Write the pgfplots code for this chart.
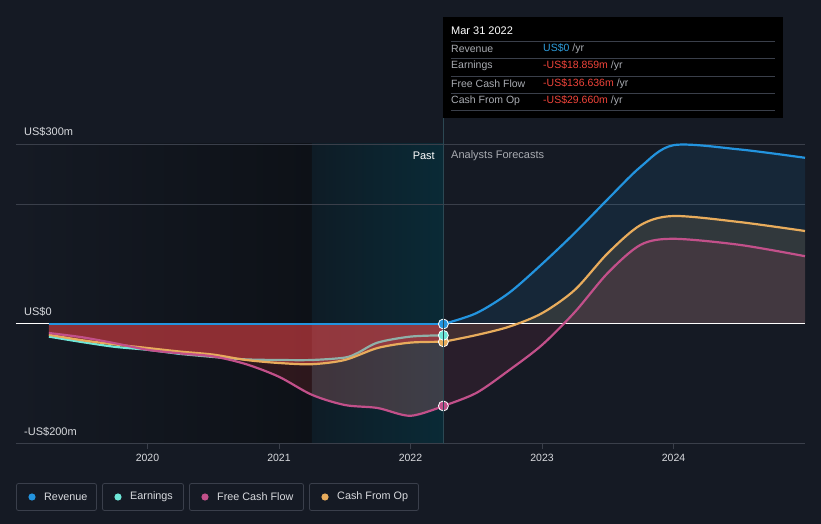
\documentclass[border=0pt]{standalone}
\usepackage{pgfplots}
\pgfplotsset{compat=1.18}
\usepackage{fontspec}
\setmainfont{Liberation Sans}
\definecolor{bg}{HTML}{151A24}
\definecolor{darkband}{HTML}{0D1117}
\definecolor{teal1}{HTML}{0E1C26}
\definecolor{teal2}{HTML}{0A2A36}
\definecolor{gridgray}{HTML}{3A3F4A}
\definecolor{revblue}{HTML}{2394DF}
\definecolor{earncyan}{HTML}{6EE7D8}
\definecolor{earngray}{HTML}{8FB0A8}
\definecolor{fcfpink}{HTML}{C2508A}
\definecolor{cfoorange}{HTML}{E8AC5C}
\definecolor{pastred}{HTML}{C03A3F}
\definecolor{negred}{HTML}{E63C3C}
\definecolor{fcffill}{HTML}{C04060}
\definecolor{labgray}{HTML}{A9ACB2}
\definecolor{valred}{HTML}{F0443A}
\definecolor{valblue}{HTML}{2D9CDB}
\definecolor{ticktext}{HTML}{D8DADE}
\definecolor{vline}{HTML}{2C4853}
\definecolor{legborder}{HTML}{3A3F4B}
\begin{document}
\begin{tikzpicture}[x=1pt,y=1pt]
\fill[bg] (0,0) rectangle (821,524);
\useasboundingbox (0,0) rectangle (821,524);
\begin{axis}[
  at={(16pt,80pt)}, anchor=south west, scale only axis,
  width=789pt, height=300pt,
  xmin=2019, xmax=2025, ymin=-200, ymax=300,
  axis x line*=bottom, axis y line=none,
  axis on top,
  x axis line style={draw=gridgray, line width=1pt},
  xtick={2020,2021,2022,2023,2024},
  xticklabels={2020,2021,2022,2023,2024},
  tick style={draw=gridgray, line width=1pt},
  major tick length=5pt, tick align=outside,
  xticklabel style={text=ticktext, font=\fontsize{10.5}{12}\selectfont, yshift=-1.5pt},
  ytick=\empty,
]
% background bands
\fill[left color=bg, right color=darkband] (axis cs:2019,-200) rectangle (axis cs:2021.25,300);
\fill[left color=teal1, right color=teal2] (axis cs:2021.25,-200) rectangle (axis cs:2022.25,300);
\draw[gridgray, line width=0.8pt] (axis cs:2019,300) -- (axis cs:2025,300);
\draw[gridgray, line width=0.8pt] (axis cs:2019,200) -- (axis cs:2025,200);

% past fills
\addplot[draw=none, fill=negred, fill opacity=0.15, smooth] coordinates {
(2019.25,-15) (2019.5,-22) (2019.75,-32) (2020,-43) (2020.25,-49) (2020.5,-54) (2020.75,-67) (2021,-88) (2021.25,-118) (2021.5,-135) (2021.75,-140) (2022,-153) (2022.25,-136.6)} \closedcycle;
% lighter wash over the past band, down to the FCF line
\addplot[draw=none, fill=white, fill opacity=0.09, smooth] coordinates {
(2021.25,-118) (2021.5,-135) (2021.75,-140) (2022,-153) (2022.25,-136.6)} \closedcycle;
\addplot[draw=none, fill=pastred, fill opacity=0.65, smooth] coordinates {
(2019.25,-18) (2019.5,-27) (2019.75,-34) (2020,-40) (2020.25,-46) (2020.5,-51) (2020.75,-60) (2021,-65) (2021.25,-67) (2021.5,-60) (2021.75,-40) (2022,-31) (2022.25,-29.7)} \closedcycle;

% forecast fills
\addplot[draw=none, fill=revblue, fill opacity=0.11, smooth] coordinates {
(2022.25,0) (2022.5,18) (2022.75,52) (2023,100) (2023.25,152) (2023.5,208) (2023.75,262) (2024,298) (2024.5,291) (2025,277)} \closedcycle;
\addplot[draw=none, fill=cfoorange, fill opacity=0.13, smooth] coordinates {
(2022.25,-29.7) (2022.5,-18.5) (2022.75,-4.5) (2023,18) (2023.25,57) (2023.5,118) (2023.75,165) (2024,180) (2024.5,170) (2025,155)} \closedcycle;
\addplot[draw=none, fill=fcffill, fill opacity=0.12, smooth] coordinates {
(2022.25,-136.6) (2022.5,-115) (2022.75,-77) (2023,-35) (2023.25,20) (2023.5,85) (2023.75,132) (2024,142) (2024.5,132) (2025,113)} \closedcycle;

% zero line
\draw[white, line width=1pt] (axis cs:2019,0) -- (axis cs:2025,0);

% lines - past
\addplot[earncyan, line width=2.2pt, smooth] coordinates {
(2019.25,-21) (2019.5,-30) (2019.75,-38) (2020,-43) (2020.25,-50)};
\addplot[earngray, line width=2.2pt, smooth] coordinates {
(2020.25,-50) (2020.5,-55) (2020.75,-59) (2021,-60) (2021.25,-60) (2021.5,-56) (2021.6,-48) (2021.75,-31) (2022,-21) (2022.25,-18.9)};
\addplot[cfoorange, line width=2.2pt, smooth] coordinates {
(2019.25,-18) (2019.5,-27) (2019.75,-34) (2020,-40) (2020.25,-46) (2020.5,-51) (2020.75,-60) (2021,-65) (2021.25,-67) (2021.5,-60) (2021.75,-40) (2022,-31) (2022.25,-29.7)};
\addplot[fcfpink, line width=2.2pt, smooth] coordinates {
(2019.25,-15) (2019.5,-22) (2019.75,-32) (2020,-43) (2020.25,-49) (2020.5,-54) (2020.75,-67) (2021,-88) (2021.25,-118) (2021.5,-135) (2021.75,-140) (2022,-153) (2022.25,-136.6)};
\addplot[revblue, line width=2.2pt] coordinates {(2019.25,0) (2022.25,0)};

% lines - forecast
\addplot[revblue, line width=2.2pt, smooth] coordinates {
(2022.25,0) (2022.5,18) (2022.75,52) (2023,100) (2023.25,152) (2023.5,208) (2023.75,262) (2024,298) (2024.5,291) (2025,277)};
\addplot[cfoorange, line width=2.2pt, smooth] coordinates {
(2022.25,-29.7) (2022.5,-18.5) (2022.75,-4.5) (2023,18) (2023.25,57) (2023.5,118) (2023.75,165) (2024,180) (2024.5,170) (2025,155)};
\addplot[fcfpink, line width=2.2pt, smooth] coordinates {
(2022.25,-136.6) (2022.5,-115) (2022.75,-77) (2023,-35) (2023.25,20) (2023.5,85) (2023.75,132) (2024,142) (2024.5,132) (2025,113)};

% end-of-past dots
\addplot[only marks, mark=*, mark size=5pt, mark options={fill=fcfpink, draw=white, line width=0.8pt}] coordinates {(2022.25,-136.6)};
\addplot[only marks, mark=*, mark size=5pt, mark options={fill=cfoorange, draw=white, line width=0.8pt}] coordinates {(2022.25,-29.7)};
\addplot[only marks, mark=*, mark size=5pt, mark options={fill=earncyan, draw=white, line width=0.8pt}] coordinates {(2022.25,-18.9)};
\addplot[only marks, mark=*, mark size=5pt, mark options={fill=revblue, draw=white, line width=0.8pt}] coordinates {(2022.25,0)};
\end{axis}

% vertical line
\draw[vline, line width=1pt] (443,80) -- (443,406);

% y labels
\node[anchor=west, text=ticktext, font=\fontsize{11}{13}\selectfont, inner sep=0] at (24,392) {US\$300m};
\node[anchor=west, text=ticktext, font=\fontsize{11}{13}\selectfont, inner sep=0] at (24,212) {US\$0};
\node[anchor=west, text=ticktext, font=\fontsize{11}{13}\selectfont, inner sep=0] at (24,92) {-US\$200m};

% past / forecasts
\node[anchor=east, text=white, font=\fontsize{11}{13}\selectfont, inner sep=0] at (435,368) {Past};
\node[anchor=west, text=labgray, font=\fontsize{11}{13}\selectfont, inner sep=0] at (451,368) {Analysts Forecasts};

% tooltip
\fill[black] (443,406) rectangle (783,507);
\node[anchor=west, text=white, font=\fontsize{11}{13}\selectfont, inner sep=0] at (451,493) {Mar 31 2022};
\foreach \yy in {483,466,448,431,414} {\draw[gridgray, line width=0.8pt] (451,\yy) -- (775,\yy);}
\node[anchor=west, text=labgray, font=\fontsize{10.5}{12}\selectfont, inner sep=0] at (451,475.5) {Revenue};
\node[anchor=west, text=labgray, font=\fontsize{10.5}{12}\selectfont, inner sep=0] at (451,458) {Earnings};
\node[anchor=west, text=labgray, font=\fontsize{10.5}{12}\selectfont, inner sep=0] at (451,440) {Free Cash Flow};
\node[anchor=west, text=labgray, font=\fontsize{10.5}{12}\selectfont, inner sep=0] at (451,423) {Cash From Op};
\node[anchor=west, font=\fontsize{10.5}{12}\selectfont, inner sep=0] at (543,475.5) {\textcolor{valblue}{US\$0} \textcolor{labgray}{/yr}};
\node[anchor=west, font=\fontsize{10.5}{12}\selectfont, inner sep=0] at (543,458) {\textcolor{valred}{-US\$18.859m} \textcolor{labgray}{/yr}};
\node[anchor=west, font=\fontsize{10.5}{12}\selectfont, inner sep=0] at (543,440) {\textcolor{valred}{-US\$136.636m} \textcolor{labgray}{/yr}};
\node[anchor=west, font=\fontsize{10.5}{12}\selectfont, inner sep=0] at (543,423) {\textcolor{valred}{-US\$29.660m} \textcolor{labgray}{/yr}};

% legend
\foreach \xa/\xb/\col/\txt in {16/97/revblue/Revenue, 102/184/earncyan/Earnings, 189/304/fcfpink/Free Cash Flow, 309/419/cfoorange/Cash From Op} {
  \draw[legborder, line width=0.8pt, rounded corners=2pt] (\xa+0.5,13.5) rectangle (\xb-0.5,40.5);
  \fill[\col] (\xa+16,27) circle (3.6);
  \node[anchor=west, text=ticktext, font=\fontsize{10.8}{12}\selectfont, inner sep=0] at (\xa+28,27) {\txt};
}
\end{tikzpicture}
\end{document}
